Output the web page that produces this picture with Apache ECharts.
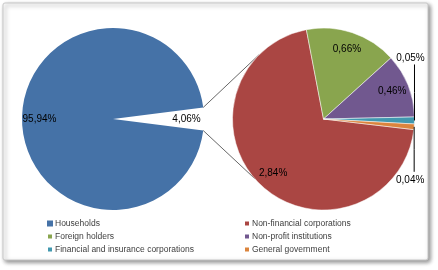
<!DOCTYPE html>
<html>
<head>
<meta charset="utf-8">
<script src="https://cdn.jsdelivr.net/npm/echarts@6/dist/echarts.min.js"></script>
<style>
    html, body {margin: 0; padding: 0; background: #fff;}
    #main {width: 438px; height: 270px;}
</style>
</head>
<body>
<div id="main"></div>
<script>
// left pie: households against the rest (the rest is split out on the right)
let mainNames = ['Other holders', 'Households'];
let mainValues = [4.06, 95.94];
// right pie: breakdown of the 4,06%
let restNames = ['Non-financial corporations', 'Foreign holders', 'Non-profit institutions',
    'Financial and insurance corporations', 'General government'];
let restValues = [2.84, 0.66, 0.46, 0.05, 0.04];
let legendLeft = ['Households', 'Foreign holders', 'Financial and insurance corporations'];
let legendRight = ['Non-financial corporations', 'Non-profit institutions', 'General government'];

let mainColor = '#4572A7';
let restColors = ['#AA4643', '#89A54E', '#71588F', '#4198AF', '#DB843D'];

// layout
let R = 91;
let cL = [113, 119];
let cR = [323.5, 119];
let gapHalf = mainValues[0] / 100 * 180;
let restStart = -6.7;
let font = 'Liberation Sans, Arial, sans-serif';

function pct(p) {
    return p.value.toFixed(2).replace('.', ',') + '%';
}

function onCircle(c, deg) {
    let a = deg * Math.PI / 180;
    return [c[0] + R * Math.cos(a), c[1] - R * Math.sin(a)];
}

let mainData = mainNames.map(function (n, i) {
    return {name: n, value: mainValues[i], itemStyle: {color: i === 0 ? 'rgba(0,0,0,0)' : mainColor}};
});
let restData = restNames.map(function (n, i) {
    return {name: n, value: restValues[i], itemStyle: {color: restColors[i]}};
});
let hidden = {color: 'rgba(0,0,0,0)', borderWidth: 0};

let restLabels = restData.map(function (d, i) {
    let outside = i >= 3;
    return {
        name: d.name, value: d.value,
        label: {position: outside ? 'outside' : 'inside'},
        labelLine: {show: outside, lineStyle: {color: '#000', width: 1}}
    };
});

let gapTop = onCircle(cL, gapHalf);
let gapBot = onCircle(cL, -gapHalf);
let tanTop = onCircle(cR, 135);
let tanBot = onCircle(cR, -139);

let legendText = {fontSize: 8.5, color: '#404040', fontFamily: font, padding: [0, 0, 0, -3]};

let myChart = echarts.init(document.getElementById('main'));
let option = {
    animation: false,
    graphic: [
        {
            type: 'rect', z: -10,
            shape: {x: 3, y: 3, width: 425, height: 257, r: 2},
            style: {
                fill: '#fff', stroke: '#c8c8c8', lineWidth: 1,
                shadowBlur: 4, shadowOffsetX: 2, shadowOffsetY: 2, shadowColor: 'rgba(0,0,0,0.45)'
            }
        },
        {
            type: 'line', z: 1,
            shape: {x1: gapTop[0], y1: gapTop[1], x2: tanTop[0], y2: tanTop[1]},
            style: {stroke: '#404040', lineWidth: 0.8}
        },
        {
            type: 'line', z: 1,
            shape: {x1: gapBot[0], y1: gapBot[1], x2: tanBot[0], y2: tanBot[1]},
            style: {stroke: '#404040', lineWidth: 0.8}
        }
    ],
    legend: [
        {
            orient: 'vertical', left: 41, top: 214, itemGap: 4,
            itemWidth: 6, itemHeight: 6, icon: 'rect',
            textStyle: legendText,
            data: legendLeft
        },
        {
            orient: 'vertical', left: 238, top: 214, itemGap: 4,
            itemWidth: 6, itemHeight: 6, icon: 'rect',
            textStyle: legendText,
            data: legendRight
        }
    ],
    series: [
        {
            name: 'holders', type: 'pie', z: 2,
            center: cL, radius: R, startAngle: gapHalf, clockwise: true,
            label: {show: false}, labelLine: {show: false},
            emphasis: {disabled: true},
            data: mainData
        },
        {
            name: 'rest', type: 'pie', z: 2,
            center: cR, radius: R, startAngle: restStart, clockwise: true,
            itemStyle: {borderColor: '#fff', borderWidth: 0.5},
            label: {show: false}, labelLine: {show: false},
            emphasis: {disabled: true},
            data: restData
        },
        {
            // label carrier for the left pie (puts labels ~3/4 out from the centre)
            name: 'holdersLabels', type: 'pie', z: 3, silent: true, legendHoverLink: false,
            center: cL, radius: [R * 0.55, R], startAngle: gapHalf, clockwise: true,
            itemStyle: hidden,
            label: {show: true, position: 'inside', formatter: pct, color: '#000', fontSize: 10, fontFamily: font},
            labelLine: {show: false},
            data: mainNames.map(function (n, i) { return {name: n, value: mainValues[i]}; })
        },
        {
            name: 'restLabels', type: 'pie', z: 3, silent: true, legendHoverLink: false,
            center: cR, radius: [R * 0.56, R], startAngle: restStart, clockwise: true,
            avoidLabelOverlap: false,
            itemStyle: hidden,
            label: {show: true, formatter: pct, color: '#000', fontSize: 10, fontFamily: font},
            labelLayout: function (p) {
                if (p.dataIndex < 3 || !p.labelLinePoints) return {};
                let s = p.labelLinePoints[0];
                let up = p.dataIndex === 3;
                let endY = up ? s[1] - 56 : s[1] + 45;
                return {
                    x: s[0] - 4,
                    y: up ? endY - 1 : endY + 3,
                    align: 'center',
                    verticalAlign: up ? 'bottom' : 'top',
                    labelLinePoints: [[s[0], s[1]], [s[0], (s[1] + endY) / 2], [s[0], endY]]
                };
            },
            data: restLabels
        }
    ]
};
myChart.setOption(option);
</script>
</body>
</html>
